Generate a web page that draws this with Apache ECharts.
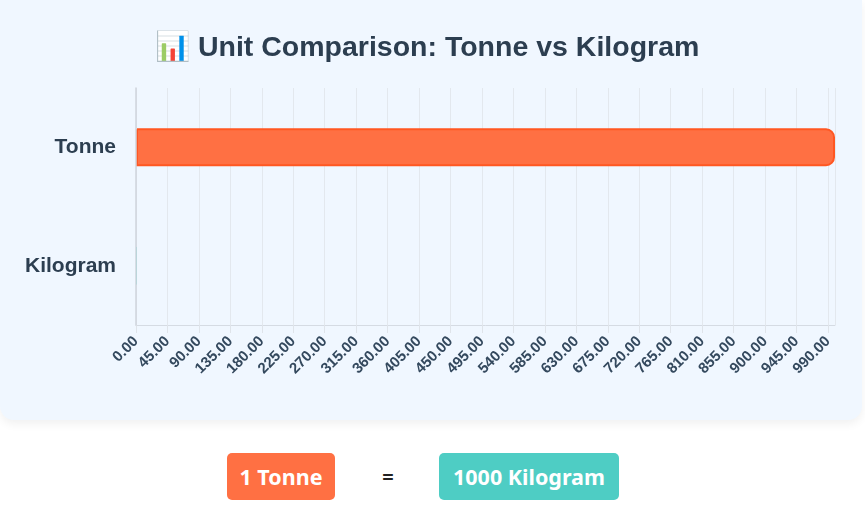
<!DOCTYPE html>
<html>
<head>
<meta charset="utf-8">
<script src="https://cdn.jsdelivr.net/npm/echarts@6/dist/echarts.min.js"></script>
<style>
    html, body { margin: 0; padding: 0; background: #ffffff; }
    #panel {
        position: absolute; left: 0; top: 0; width: 862px; height: 420px;
        background: #f0f7ff; border-radius: 0 0 14px 14px;
        box-shadow: 0 4px 10px rgba(0, 0, 0, 0.06);
    }
    #container { width: 862px; height: 420px; }
    .result {
        position: absolute; top: 453px; left: 0; width: 865px; height: 47px;
        font-family: "Noto Sans", "Open Sans", sans-serif; font-weight: bold;
    }
    .box {
        position: absolute; top: 0; height: 47px; line-height: 47px;
        border-radius: 5px; color: #fff; font-size: 21.5px; text-align: center;
    }
    .eq { position: absolute; top: 0; left: 378px; width: 20px; line-height: 47px; font-size: 20px; color: #222; text-align: center; }
</style>
</head>
<body>
<div id="panel"><div id="container"></div></div>
<div class="result">
    <div class="box" style="left:227px;width:108px;background:#ff7043">1 Tonne</div>
    <div class="eq">=</div>
    <div class="box" style="left:439px;width:180px;background:#4ecdc4">1000 Kilogram</div>
</div>

<script>
    // data
    var units = ['Tonne', 'Kilogram'];
    var amounts = [1000, 1];
    var barColors = ['#ff7043', '#4ecdc4'];
    var borderColors = ['#ff5722', '#4ecdc4'];
    var borderWidths = [2, 0];

    var myChart = echarts.init(document.getElementById('container'));
    var option = {
        title: {
            text: '📊 Unit Comparison: Tonne vs Kilogram',
            left: 150,
            top: 29,
            textStyle: {
                fontFamily: 'Liberation Sans, Arial, sans-serif',
                fontSize: 28.5,
                fontWeight: 'bold',
                color: '#2c3e50'
            }
        },
        grid: { left: 136, right: 27, top: 88, bottom: 95 },
        xAxis: {
            type: 'value',
            min: 0,
            max: 1000,
            interval: 45,
            axisLine: { show: true, lineStyle: { color: '#d5dbe3' } },
            axisTick: { show: true, length: 8, lineStyle: { color: '#dfe4ea' } },
            splitLine: { lineStyle: { color: '#e3e8ee' } },
            axisLabel: {
                rotate: 45,
                fontSize: 15,
                fontWeight: 'bold',
                color: '#34495e',
                margin: 14,
                fontFamily: 'Liberation Sans, Arial, sans-serif',
                showMaxLabel: false,
                formatter: function (v) { return v.toFixed(2); }
            }
        },
        yAxis: {
            type: 'category',
            inverse: true,
            data: units,
            z: 5,
            axisLine: { show: true, lineStyle: { color: '#cfd5dc', width: 1.5 } },
            axisTick: { show: false },
            axisLabel: {
                fontSize: 21,
                fontWeight: 'bold',
                color: '#2c3e50',
                margin: 20,
                fontFamily: 'Liberation Sans, Arial, sans-serif'
            }
        },
        series: [{
            type: 'bar',
            barWidth: 38,
            data: amounts.map(function (v, i) {
                return {
                    value: v,
                    itemStyle: {
                        color: barColors[i],
                        borderColor: borderColors[i],
                        borderWidth: borderWidths[i],
                        borderRadius: [0, 8, 8, 0]
                    }
                };
            })
        }]
    };
    myChart.setOption(option);
</script>
</body>
</html>
